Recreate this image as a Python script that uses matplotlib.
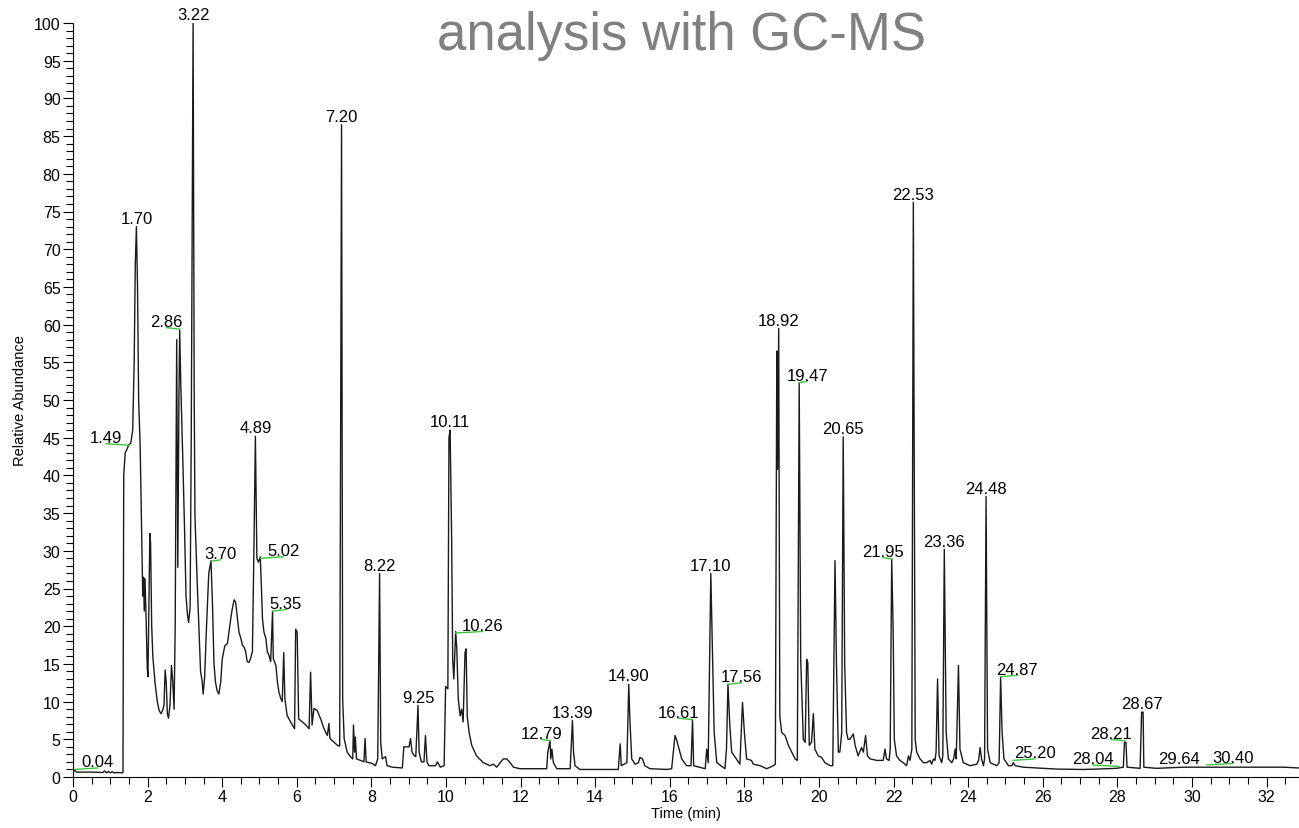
import matplotlib
matplotlib.use("Agg")
import matplotlib.pyplot as plt
from matplotlib.ticker import MultipleLocator

plt.rcParams['font.family'] = ['Liberation Sans', 'DejaVu Sans']

# chromatogram trace (time in min, relative abundance in %)
rt = [0.00, 0.04, 0.10, 0.50, 0.80, 0.85, 0.90, 0.95, 1.00, 1.05, 1.10, 1.20, 1.30, 1.34,
      1.36, 1.40, 1.45, 1.49, 1.55, 1.60, 1.64, 1.67, 1.70, 1.73, 1.76, 1.80, 1.84, 1.87,
      1.89, 1.91, 1.93, 1.96, 1.99, 2.01, 2.04, 2.06, 2.08, 2.11, 2.14, 2.20, 2.26, 2.31,
      2.36, 2.40, 2.44, 2.47, 2.50, 2.53, 2.56, 2.60, 2.64, 2.67, 2.71, 2.74, 2.78, 2.81,
      2.84, 2.86, 2.89, 2.92, 2.95, 2.99, 3.03, 3.07, 3.10, 3.14, 3.17, 3.22, 3.25, 3.27,
      3.33, 3.38, 3.42, 3.46, 3.49, 3.53, 3.58, 3.64, 3.70, 3.74, 3.78, 3.82, 3.86, 3.91,
      3.96, 4.00, 4.07, 4.14, 4.18, 4.23, 4.27, 4.32, 4.36, 4.41, 4.45, 4.50, 4.54, 4.59,
      4.63, 4.67, 4.72, 4.76, 4.81, 4.85, 4.89, 4.91, 4.93, 4.97, 5.02, 5.05, 5.08, 5.12,
      5.17, 5.21, 5.25, 5.30, 5.35, 5.37, 5.40, 5.44, 5.48, 5.52, 5.57, 5.61, 5.65, 5.68,
      5.74, 5.79, 5.88, 5.94, 5.97, 6.01, 6.05, 6.15, 6.24, 6.33, 6.37, 6.41, 6.46, 6.55,
      6.64, 6.73, 6.82, 6.86, 6.89, 7.00, 7.09, 7.15, 7.20, 7.23, 7.27, 7.35, 7.44, 7.50,
      7.52, 7.55, 7.57, 7.60, 7.71, 7.80, 7.83, 7.86, 8.02, 8.11, 8.17, 8.22, 8.25, 8.29,
      8.38, 8.42, 8.56, 8.83, 8.87, 9.01, 9.05, 9.09, 9.14, 9.19, 9.25, 9.28, 9.34, 9.41,
      9.45, 9.49, 9.54, 9.72, 9.77, 9.85, 9.95, 9.99, 10.05, 10.08, 10.11, 10.15, 10.18,
      10.21, 10.26, 10.29, 10.33, 10.38, 10.42, 10.46, 10.51, 10.54, 10.57, 10.62, 10.69,
      10.82, 11.00, 11.18, 11.27, 11.36, 11.45, 11.54, 11.63, 11.72, 11.81, 11.98, 12.70,
      12.73, 12.79, 12.81, 12.84, 12.88, 12.97, 13.33, 13.39, 13.42, 13.46, 13.59, 14.62,
      14.67, 14.70, 14.85, 14.90, 14.93, 14.98, 15.07, 15.16, 15.20, 15.27, 15.33, 15.47,
      15.92, 16.05, 16.14, 16.18, 16.25, 16.32, 16.45, 16.57, 16.61, 16.64, 16.95, 16.99,
      17.03, 17.10, 17.14, 17.19, 17.26, 17.48, 17.52, 17.56, 17.61, 17.66, 17.88, 17.95,
      18.00, 18.06, 18.19, 18.24, 18.42, 18.60, 18.78, 18.83, 18.87, 18.89, 18.92, 18.95,
      19.00, 19.09, 19.18, 19.27, 19.36, 19.42, 19.47, 19.51, 19.58, 19.63, 19.67, 19.70,
      19.74, 19.80, 19.85, 19.89, 19.98, 20.07, 20.16, 20.30, 20.37, 20.43, 20.47, 20.52,
      20.56, 20.61, 20.65, 20.69, 20.74, 20.78, 20.83, 20.92, 20.97, 21.05, 21.14, 21.19,
      21.25, 21.30, 21.37, 21.55, 21.72, 21.77, 21.81, 21.88, 21.91, 21.95, 21.99, 22.02,
      22.08, 22.17, 22.26, 22.35, 22.40, 22.44, 22.49, 22.53, 22.58, 22.62, 22.71, 22.80,
      22.89, 22.98, 23.02, 23.07, 23.11, 23.14, 23.18, 23.22, 23.29, 23.32, 23.36, 23.41,
      23.47, 23.56, 23.61, 23.65, 23.68, 23.74, 23.78, 23.87, 24.05, 24.23, 24.28, 24.32,
      24.36, 24.41, 24.44, 24.48, 24.52, 24.59, 24.77, 24.83, 24.87, 24.91, 24.96, 25.08,
      25.17, 25.21, 25.26, 25.48, 26.00, 26.37, 27.08, 27.44, 27.98, 28.16, 28.19, 28.23,
      28.26, 28.61, 28.65, 28.69, 28.71, 29.05, 29.77, 30.66, 31.56, 32.45, 32.87]

abundance = [0.6, 0.9, 0.65, 0.65, 0.6, 0.8, 0.55, 0.75, 0.55, 0.7, 0.55, 0.6, 0.55, 0.6,
             40.0, 43.0, 43.5, 44.0, 44.3, 46.0, 55.0, 68.0, 73.0, 65.0, 50.0, 44.0, 33.0, 24.0,
             26.5, 22.0, 26.3, 21.0, 14.5, 13.3, 25.0, 32.3, 31.0, 20.0, 16.0, 12.5, 10.0, 8.8,
             8.4, 8.8, 9.5, 14.2, 12.5, 8.4, 7.8, 9.5, 14.8, 13.0, 9.0, 20.0, 58.0, 27.8,
             50.0, 59.3, 52.0, 46.5, 41.0, 33.0, 24.0, 21.5, 20.5, 22.5, 45.0, 100.0, 50.0, 34.5,
             25.8, 19.2, 14.0, 12.8, 11.0, 13.3, 20.0, 27.0, 28.7, 22.8, 15.0, 12.6, 11.5, 11.0,
             12.6, 15.6, 17.4, 17.7, 19.2, 21.0, 22.3, 23.5, 23.2, 21.0, 19.2, 18.4, 17.5, 17.2,
             16.6, 15.3, 15.2, 15.7, 16.6, 30.0, 45.2, 36.5, 29.0, 28.5, 29.2, 25.4, 21.0, 19.2,
             18.4, 16.6, 16.2, 15.3, 22.0, 15.7, 15.3, 14.8, 12.6, 11.3, 10.4, 10.0, 16.5, 10.4,
             8.2, 7.7, 6.9, 6.4, 19.6, 19.2, 7.7, 7.3, 6.9, 6.4, 13.9, 6.9, 9.1, 8.8,
             7.7, 6.4, 5.5, 7.1, 5.1, 4.6, 4.2, 4.1, 86.5, 10.4, 5.1, 3.3, 2.7, 2.4,
             6.9, 3.3, 5.3, 2.4, 2.2, 2.0, 5.1, 2.0, 1.8, 1.5, 2.4, 27.0, 4.6, 2.4,
             2.7, 1.5, 1.3, 1.2, 4.0, 4.0, 5.1, 3.3, 2.9, 2.7, 9.5, 3.3, 2.0, 2.0,
             5.5, 2.0, 1.5, 1.5, 2.0, 1.3, 1.5, 12.0, 11.7, 45.0, 46.0, 32.4, 15.6,
             13.0, 19.3, 17.0, 10.3, 8.1, 9.0, 7.3, 16.5, 17.0, 8.1, 5.9, 4.2,
             2.8, 1.9, 1.5, 1.7, 1.3, 1.9, 2.4, 2.4, 1.9, 1.3, 1.1, 1.1,
             3.3, 4.8, 2.4, 3.7, 1.9, 1.1, 1.1, 7.5, 3.3, 1.5, 1.0, 1.0,
             4.4, 1.5, 1.9, 12.3, 7.7, 2.4, 1.7, 1.9, 2.6, 2.4, 1.5, 1.1,
             1.0, 1.1, 5.5, 5.0, 3.7, 2.4, 1.5, 1.5, 7.6, 1.5, 1.1, 3.7,
             1.9, 27.0, 17.4, 5.9, 1.9, 1.1, 3.7, 12.3, 6.8, 3.3, 1.7, 9.9,
             5.9, 2.4, 2.2, 1.7, 1.5, 1.1, 1.5, 1.7, 56.5, 40.8, 59.5, 8.1,
             5.9, 5.5, 4.2, 3.3, 2.4, 2.2, 52.3, 15.6, 5.0, 4.6, 15.6, 15.2,
             4.2, 4.6, 8.4, 3.7, 2.8, 2.6, 1.9, 1.5, 1.5, 28.7, 14.8, 3.3,
             3.3, 5.9, 45.1, 14.8, 5.9, 5.0, 5.0, 5.7, 4.2, 2.8, 3.9, 3.3,
             5.5, 2.8, 2.4, 2.2, 2.2, 3.7, 2.4, 2.2, 3.7, 28.9, 19.2, 5.0,
             2.8, 2.2, 1.9, 1.5, 2.8, 2.2, 3.7, 76.2, 5.0, 3.3, 2.4, 1.9,
             1.9, 2.2, 1.7, 2.4, 2.2, 3.3, 13.0, 2.8, 1.9, 2.8, 30.2, 5.9,
             2.4, 1.9, 2.4, 3.7, 2.4, 14.8, 3.7, 1.9, 1.5, 1.7, 2.2, 3.9,
             2.4, 1.5, 2.4, 37.2, 3.7, 1.9, 1.5, 1.9, 13.3, 5.9, 2.4, 1.5,
             1.5, 1.9, 1.5, 1.3, 1.15, 1.05, 1.0, 1.05, 1.15, 1.3, 4.6, 4.6,
             1.3, 1.15, 8.6, 8.6, 1.3, 1.15, 1.3, 1.3, 1.3, 1.3, 1.2]

# labelled peaks: retention time text and apex height
peak_labels = ['0.04', '1.49', '1.70', '2.86', '3.22', '3.70', '4.89', '5.02', '5.35',
               '7.20', '8.22', '9.25', '10.11', '10.26', '12.79', '13.39', '14.90',
               '16.61', '17.10', '17.56', '18.92', '19.47', '20.65', '21.95', '22.53',
               '23.36', '24.48', '24.87', '25.20', '28.04', '28.21', '28.67', '29.64', '30.40']
peak_heights = [1.0, 44.0, 73.0, 59.4, 100.0, 28.6, 45.2, 29.0, 22.0,
                86.5, 27.0, 9.5, 46.0, 19.1, 4.8, 7.5, 12.3,
                7.6, 27.0, 12.3, 59.5, 52.3, 45.1, 28.9, 76.2,
                30.2, 37.2, 13.3, 2.2, 1.4, 4.8, 8.6, 1.3, 1.6]

# label shift in minutes (0 = straight above the peak, else joined by a green tick)
label_dx = [0.62, -0.60, 0.02, -0.36, 0, 0.25, 0, 0.62, 0.36,
            0, 0, 0, 0, 0.72, -0.23, 0, 0,
            -0.37, 0, 0.36, 0, 0.22, 0, -0.23, 0,
            0, 0, 0.45, 0.58, -0.70, -0.38, 0, 0, 0.69]

fig = plt.figure(figsize=(12.99, 8.29), dpi=100)
ax = fig.add_axes([73 / 1299, 1 - 778 / 829, (1299 - 73) / 1299, (778 - 24) / 829])

ax.plot(rt, abundance, color='#1a1a1a', lw=1.0)

for lab, h, dx in zip(peak_labels, peak_heights, label_dx):
    x = float(lab)
    if dx in (0, 0.02):
        ax.text(x + dx, h + 0.5, lab, ha='center', va='baseline', fontsize=12)
    else:
        ax.plot([x, x + dx], [h, h + 0.2], color='#3cc43c', lw=1.0)
        ax.text(x + dx, h + 0.4, lab, ha='center', va='baseline', fontsize=12)

ax.set_xlim(0, 32.87)
ax.set_ylim(0, 100)
ax.spines['top'].set_visible(False)
ax.spines['right'].set_visible(False)
ax.xaxis.set_major_locator(MultipleLocator(2))
ax.xaxis.set_minor_locator(MultipleLocator(0.5))
ax.yaxis.set_major_locator(MultipleLocator(5))
ax.yaxis.set_minor_locator(MultipleLocator(1))
ax.tick_params(which='major', length=7.5, width=0.8, labelsize=11.5, pad=1.5)
ax.tick_params(which='minor', length=5, width=0.8)

ax.set_xlabel('Time (min)', fontsize=10.5, labelpad=1)
ax.set_ylabel('Relative Abundance', fontsize=10.5, labelpad=5)

# title is partly cut off at the top of the picture
fig.text(0.525, 1 - 50 / 829, 'analysis with GC-MS', ha='center', va='baseline',
         fontsize=38, color='#808080')

fig.savefig('out.png', dpi=100)
